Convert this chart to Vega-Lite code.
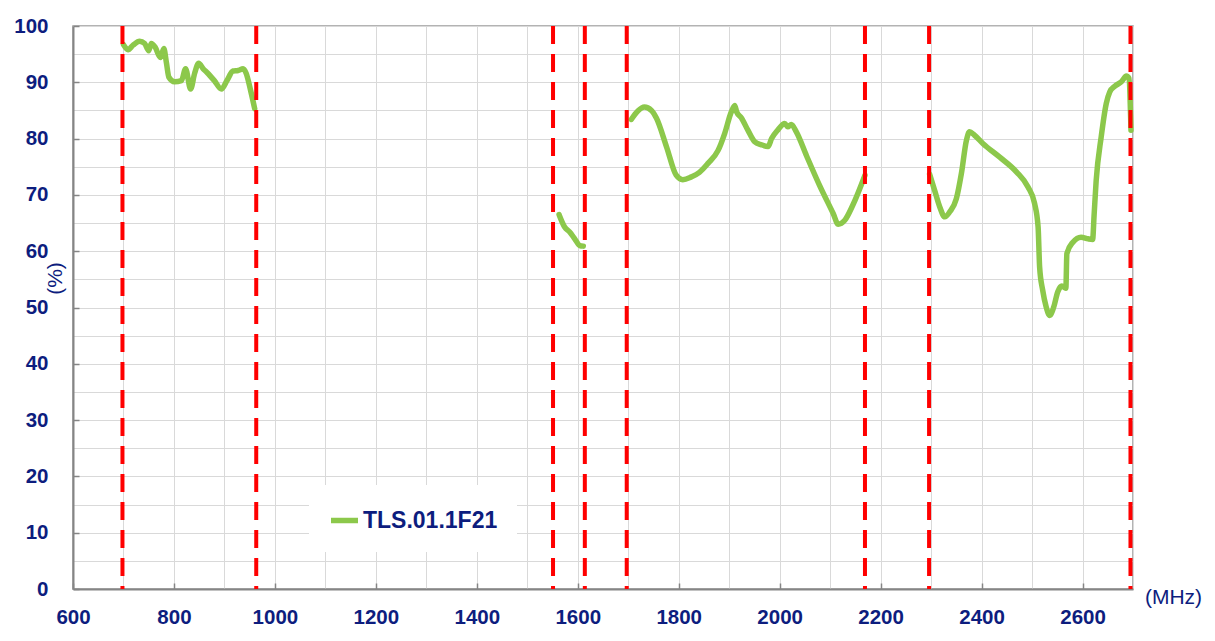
{
  "$schema": "https://vega.github.io/schema/vega-lite/v6.json",
  "width": 1060,
  "height": 563,
  "autosize": "none",
  "padding": {"left": 73, "top": 26, "right": 82, "bottom": 52},
  "background": "white",
  "config": {
    "view": {"stroke": "#9a9a9a", "strokeWidth": 1.5},
    "font": "Liberation Sans"
  },
  "datasets": {
    "curve": [
      {"f": 700, "v": 96.7, "seg": 1, "series": "TLS.01.1F21"},
      {"f": 709, "v": 95.8, "seg": 1, "series": "TLS.01.1F21"},
      {"f": 719, "v": 96.6, "seg": 1, "series": "TLS.01.1F21"},
      {"f": 732, "v": 97.3, "seg": 1, "series": "TLS.01.1F21"},
      {"f": 742, "v": 96.9, "seg": 1, "series": "TLS.01.1F21"},
      {"f": 750, "v": 95.6, "seg": 1, "series": "TLS.01.1F21"},
      {"f": 755, "v": 96.9, "seg": 1, "series": "TLS.01.1F21"},
      {"f": 763, "v": 96.2, "seg": 1, "series": "TLS.01.1F21"},
      {"f": 773, "v": 94.4, "seg": 1, "series": "TLS.01.1F21"},
      {"f": 780, "v": 96.0, "seg": 1, "series": "TLS.01.1F21"},
      {"f": 785, "v": 93.5, "seg": 1, "series": "TLS.01.1F21"},
      {"f": 790, "v": 90.9, "seg": 1, "series": "TLS.01.1F21"},
      {"f": 801, "v": 90.1, "seg": 1, "series": "TLS.01.1F21"},
      {"f": 815, "v": 90.3, "seg": 1, "series": "TLS.01.1F21"},
      {"f": 823, "v": 92.4, "seg": 1, "series": "TLS.01.1F21"},
      {"f": 833, "v": 88.8, "seg": 1, "series": "TLS.01.1F21"},
      {"f": 841, "v": 91.6, "seg": 1, "series": "TLS.01.1F21"},
      {"f": 849, "v": 93.4, "seg": 1, "series": "TLS.01.1F21"},
      {"f": 858, "v": 92.4, "seg": 1, "series": "TLS.01.1F21"},
      {"f": 866, "v": 91.7, "seg": 1, "series": "TLS.01.1F21"},
      {"f": 880, "v": 90.3, "seg": 1, "series": "TLS.01.1F21"},
      {"f": 894, "v": 88.8, "seg": 1, "series": "TLS.01.1F21"},
      {"f": 905, "v": 90.3, "seg": 1, "series": "TLS.01.1F21"},
      {"f": 917, "v": 92.0, "seg": 1, "series": "TLS.01.1F21"},
      {"f": 927, "v": 92.1, "seg": 1, "series": "TLS.01.1F21"},
      {"f": 937, "v": 92.4, "seg": 1, "series": "TLS.01.1F21"},
      {"f": 943, "v": 91.6, "seg": 1, "series": "TLS.01.1F21"},
      {"f": 952, "v": 88.5, "seg": 1, "series": "TLS.01.1F21"},
      {"f": 960, "v": 85.3, "seg": 1, "series": "TLS.01.1F21"},

      {"f": 1563, "v": 66.5, "seg": 2, "series": "TLS.01.1F21"},
      {"f": 1574, "v": 64.3, "seg": 2, "series": "TLS.01.1F21"},
      {"f": 1584, "v": 63.4, "seg": 2, "series": "TLS.01.1F21"},
      {"f": 1594, "v": 62.2, "seg": 2, "series": "TLS.01.1F21"},
      {"f": 1604, "v": 61.0, "seg": 2, "series": "TLS.01.1F21"},
      {"f": 1611, "v": 60.9, "seg": 2, "series": "TLS.01.1F21"},

      {"f": 1706, "v": 83.4, "seg": 3, "series": "TLS.01.1F21"},
      {"f": 1719, "v": 84.9, "seg": 3, "series": "TLS.01.1F21"},
      {"f": 1732, "v": 85.6, "seg": 3, "series": "TLS.01.1F21"},
      {"f": 1746, "v": 85.0, "seg": 3, "series": "TLS.01.1F21"},
      {"f": 1756, "v": 83.6, "seg": 3, "series": "TLS.01.1F21"},
      {"f": 1776, "v": 78.5, "seg": 3, "series": "TLS.01.1F21"},
      {"f": 1795, "v": 73.5, "seg": 3, "series": "TLS.01.1F21"},
      {"f": 1808, "v": 72.7, "seg": 3, "series": "TLS.01.1F21"},
      {"f": 1825, "v": 73.2, "seg": 3, "series": "TLS.01.1F21"},
      {"f": 1841, "v": 74.0, "seg": 3, "series": "TLS.01.1F21"},
      {"f": 1858, "v": 75.6, "seg": 3, "series": "TLS.01.1F21"},
      {"f": 1878, "v": 77.9, "seg": 3, "series": "TLS.01.1F21"},
      {"f": 1891, "v": 80.9, "seg": 3, "series": "TLS.01.1F21"},
      {"f": 1904, "v": 84.7, "seg": 3, "series": "TLS.01.1F21"},
      {"f": 1911, "v": 85.9, "seg": 3, "series": "TLS.01.1F21"},
      {"f": 1915, "v": 84.7, "seg": 3, "series": "TLS.01.1F21"},
      {"f": 1924, "v": 83.7, "seg": 3, "series": "TLS.01.1F21"},
      {"f": 1937, "v": 81.5, "seg": 3, "series": "TLS.01.1F21"},
      {"f": 1950, "v": 79.5, "seg": 3, "series": "TLS.01.1F21"},
      {"f": 1964, "v": 78.9, "seg": 3, "series": "TLS.01.1F21"},
      {"f": 1977, "v": 78.6, "seg": 3, "series": "TLS.01.1F21"},
      {"f": 1984, "v": 80.0, "seg": 3, "series": "TLS.01.1F21"},
      {"f": 1997, "v": 81.6, "seg": 3, "series": "TLS.01.1F21"},
      {"f": 2010, "v": 82.7, "seg": 3, "series": "TLS.01.1F21"},
      {"f": 2016, "v": 82.1, "seg": 3, "series": "TLS.01.1F21"},
      {"f": 2023, "v": 82.5, "seg": 3, "series": "TLS.01.1F21"},
      {"f": 2033, "v": 81.2, "seg": 3, "series": "TLS.01.1F21"},
      {"f": 2053, "v": 77.0, "seg": 3, "series": "TLS.01.1F21"},
      {"f": 2079, "v": 71.7, "seg": 3, "series": "TLS.01.1F21"},
      {"f": 2106, "v": 66.7, "seg": 3, "series": "TLS.01.1F21"},
      {"f": 2116, "v": 64.8, "seg": 3, "series": "TLS.01.1F21"},
      {"f": 2129, "v": 65.5, "seg": 3, "series": "TLS.01.1F21"},
      {"f": 2145, "v": 68.2, "seg": 3, "series": "TLS.01.1F21"},
      {"f": 2169, "v": 73.5, "seg": 3, "series": "TLS.01.1F21"},

      {"f": 2297, "v": 73.7, "seg": 4, "series": "TLS.01.1F21"},
      {"f": 2307, "v": 70.8, "seg": 4, "series": "TLS.01.1F21"},
      {"f": 2317, "v": 67.9, "seg": 4, "series": "TLS.01.1F21"},
      {"f": 2327, "v": 66.1, "seg": 4, "series": "TLS.01.1F21"},
      {"f": 2337, "v": 67.0, "seg": 4, "series": "TLS.01.1F21"},
      {"f": 2350, "v": 69.3, "seg": 4, "series": "TLS.01.1F21"},
      {"f": 2360, "v": 73.8, "seg": 4, "series": "TLS.01.1F21"},
      {"f": 2370, "v": 79.7, "seg": 4, "series": "TLS.01.1F21"},
      {"f": 2376, "v": 81.2, "seg": 4, "series": "TLS.01.1F21"},
      {"f": 2386, "v": 80.6, "seg": 4, "series": "TLS.01.1F21"},
      {"f": 2403, "v": 79.1, "seg": 4, "series": "TLS.01.1F21"},
      {"f": 2436, "v": 76.7, "seg": 4, "series": "TLS.01.1F21"},
      {"f": 2469, "v": 74.1, "seg": 4, "series": "TLS.01.1F21"},
      {"f": 2492, "v": 71.4, "seg": 4, "series": "TLS.01.1F21"},
      {"f": 2505, "v": 68.5, "seg": 4, "series": "TLS.01.1F21"},
      {"f": 2512, "v": 64.3, "seg": 4, "series": "TLS.01.1F21"},
      {"f": 2515, "v": 57.2, "seg": 4, "series": "TLS.01.1F21"},
      {"f": 2521, "v": 53.1, "seg": 4, "series": "TLS.01.1F21"},
      {"f": 2528, "v": 50.1, "seg": 4, "series": "TLS.01.1F21"},
      {"f": 2535, "v": 48.6, "seg": 4, "series": "TLS.01.1F21"},
      {"f": 2543, "v": 50.1, "seg": 4, "series": "TLS.01.1F21"},
      {"f": 2551, "v": 52.8, "seg": 4, "series": "TLS.01.1F21"},
      {"f": 2559, "v": 53.8, "seg": 4, "series": "TLS.01.1F21"},
      {"f": 2567, "v": 53.4, "seg": 4, "series": "TLS.01.1F21"},
      {"f": 2569, "v": 59.6, "seg": 4, "series": "TLS.01.1F21"},
      {"f": 2581, "v": 61.6, "seg": 4, "series": "TLS.01.1F21"},
      {"f": 2597, "v": 62.5, "seg": 4, "series": "TLS.01.1F21"},
      {"f": 2611, "v": 62.2, "seg": 4, "series": "TLS.01.1F21"},
      {"f": 2620, "v": 62.1, "seg": 4, "series": "TLS.01.1F21"},
      {"f": 2623, "v": 66.5, "seg": 4, "series": "TLS.01.1F21"},
      {"f": 2627, "v": 72.5, "seg": 4, "series": "TLS.01.1F21"},
      {"f": 2637, "v": 80.3, "seg": 4, "series": "TLS.01.1F21"},
      {"f": 2647, "v": 86.2, "seg": 4, "series": "TLS.01.1F21"},
      {"f": 2654, "v": 88.3, "seg": 4, "series": "TLS.01.1F21"},
      {"f": 2664, "v": 89.3, "seg": 4, "series": "TLS.01.1F21"},
      {"f": 2677, "v": 90.1, "seg": 4, "series": "TLS.01.1F21"},
      {"f": 2687, "v": 91.1, "seg": 4, "series": "TLS.01.1F21"},
      {"f": 2692, "v": 90.7, "seg": 4, "series": "TLS.01.1F21"},
      {"f": 2696, "v": 81.5, "seg": 4, "series": "TLS.01.1F21"}
    ],
    "bands": [
      {"f": 698}, {"f": 963}, {"f": 1551}, {"f": 1614},
      {"f": 1697}, {"f": 2169}, {"f": 2296}, {"f": 2695}
    ]
  },
  "layer": [
    {
      "data": {"name": "curve"},
      "mark": {"type": "line", "interpolate": "monotone", "strokeWidth": 5.5, "strokeCap": "round", "strokeJoin": "round"},
      "encoding": {
        "x": {
          "field": "f", "type": "quantitative",
          "scale": {"domain": [600, 2700], "nice": false, "zero": false},
          "axis": {
            "values": [600, 700, 800, 900, 1000, 1100, 1200, 1300, 1400, 1500, 1600, 1700, 1800, 1900, 2000, 2100, 2200, 2300, 2400, 2500, 2600, 2700],
            "labelExpr": "datum.value % 200 == 0 ? datum.label : ''",
            "format": "d",
            "grid": true, "gridColor": "#d9d9d9", "gridWidth": 1,
            "domainColor": "#858585", "domainWidth": 2,
            "ticks": true, "tickSize": -6, "tickWidth": 1.5,
            "tickColor": {"condition": {"test": "datum.value % 200 == 0", "value": "#858585"}, "value": "transparent"},
            "labelPadding": 24,
            "labelFont": "Liberation Sans", "labelFontWeight": "bold", "labelFontSize": 20.5,
            "labelColor": "#0d1d7e", "labelOverlap": false, "labelFlush": false,
            "title": "(MHz)", "titleFont": "Liberation Sans", "titleFontWeight": "normal",
            "titleFontSize": 21, "titleColor": "#0d1d7e",
            "titleX": 1100, "titleY": 8, "titleAlign": "center", "titleBaseline": "middle"
          }
        },
        "y": {
          "field": "v", "type": "quantitative",
          "scale": {"domain": [0, 100], "nice": false},
          "axis": {
            "values": [0, 5, 10, 15, 20, 25, 30, 35, 40, 45, 50, 55, 60, 65, 70, 75, 80, 85, 90, 95, 100],
            "labelExpr": "datum.value % 10 == 0 ? datum.label : ''",
            "grid": true, "gridColor": "#d9d9d9", "gridWidth": 1,
            "domainColor": "#858585", "domainWidth": 2,
            "ticks": true, "tickSize": -6, "tickWidth": 1.5,
            "tickColor": {"condition": {"test": "datum.value % 10 == 0", "value": "#858585"}, "value": "transparent"},
            "labelPadding": 31,
            "labelFont": "Liberation Sans", "labelFontWeight": "bold", "labelFontSize": 20.5,
            "labelColor": "#0d1d7e", "labelOverlap": false, "labelFlush": false,
            "title": "(%)", "titleFont": "Liberation Sans", "titleFontWeight": "normal",
            "titleFontSize": 21, "titleColor": "#0d1d7e",
            "titleAngle": -90, "titleX": -18, "titleY": 252, "titleAlign": "center", "titleBaseline": "middle"
          }
        },
        "detail": {"field": "seg"},
        "color": {
          "field": "series", "type": "nominal",
          "scale": {"range": ["#8cc84b"]},
          "legend": {
            "title": null, "orient": "none", "legendX": 236, "legendY": 459,
            "fillColor": "white", "strokeColor": null, "padding": 19,
            "symbolType": "stroke", "symbolSize": 729, "symbolStrokeWidth": 5.5,
            "labelFont": "Liberation Sans", "labelFontWeight": "bold", "labelFontSize": 23,
            "labelColor": "#0d1d7e", "labelOffset": 2, "labelLimit": 400
          }
        }
      }
    },
    {
      "data": {"name": "bands"},
      "mark": {"type": "rule", "color": "#ff0000", "strokeWidth": 4, "strokeDash": [18, 10]},
      "encoding": {
        "x": {"field": "f", "type": "quantitative"}
      }
    }
  ]
}
